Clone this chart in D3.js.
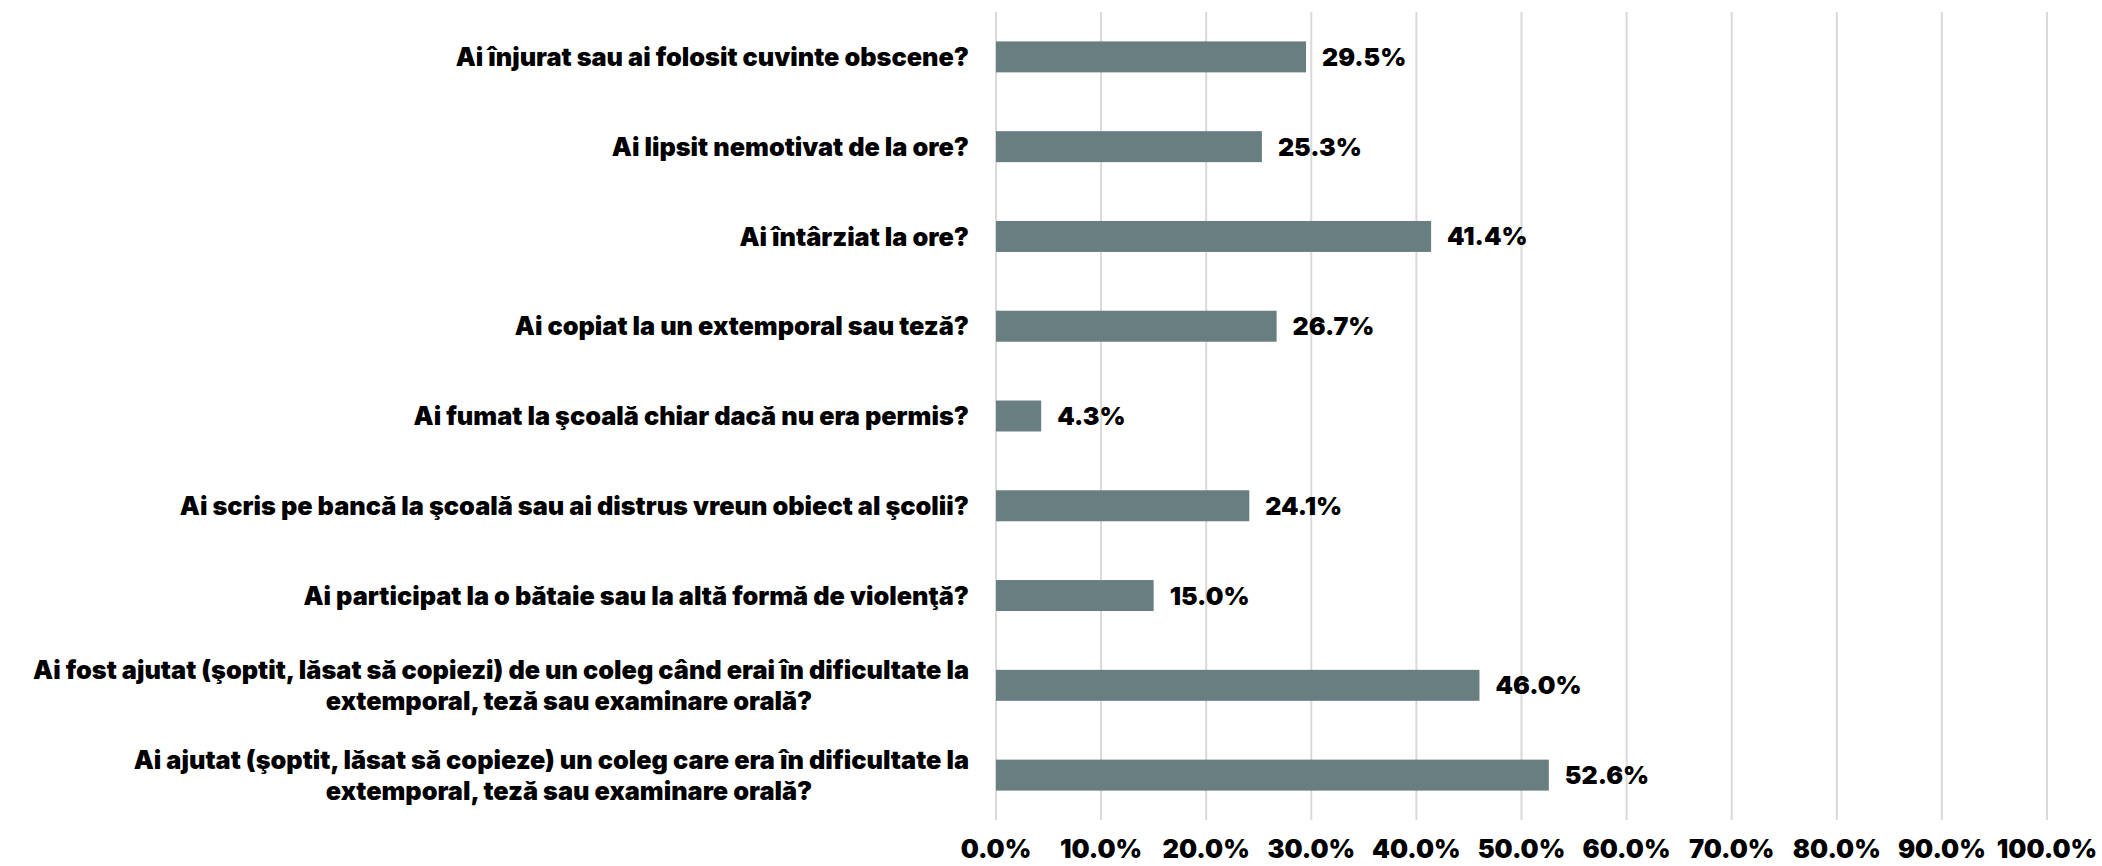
<!DOCTYPE html>
<html>
<head>
<meta charset="utf-8">
<script src="https://cdn.jsdelivr.net/npm/d3@7"></script>
<style>
  body { margin: 0; background: #fff; }
  text { font-family: Inter, Lato, "DejaVu Sans", sans-serif; font-weight: 900; fill: #000; }
</style>
</head>
<body>
<div id="chart"></div>
<script>
const width = 2102;
const height = 866;

// questions, top to bottom (each line of a label is a separate entry)
const questions = [
  ["Ai înjurat sau ai folosit cuvinte obscene?"],
  ["Ai lipsit nemotivat de la ore?"],
  ["Ai întârziat la ore?"],
  ["Ai copiat la un extemporal sau teză?"],
  ["Ai fumat la şcoală chiar dacă nu era permis?"],
  ["Ai scris pe bancă la şcoală sau ai distrus vreun obiect al şcolii?"],
  ["Ai participat la o bătaie sau la altă formă de violenţă?"],
  ["Ai fost ajutat (şoptit, lăsat să copiezi) de un coleg când erai în dificultate la", "extemporal, teză sau examinare orală?"],
  ["Ai ajutat (şoptit, lăsat să copieze) un coleg care era în dificultate la", "extemporal, teză sau examinare orală?"]
];
const values = [29.5, 25.3, 41.4, 26.7, 4.3, 24.1, 15.0, 46.0, 52.6];
const ticks = [0, 10, 20, 30, 40, 50, 60, 70, 80, 90, 100];

const margin = { top: 12, right: 55, bottom: 46, left: 996 };

const svg = d3.select("#chart")
  .append("svg")
  .attr("width", width)
  .attr("height", height);

const x = d3.scaleLinear().domain([0, 100]).range([margin.left, width - margin.right]);
const y = d3.scaleBand()
  .domain(d3.range(values.length))
  .range([margin.top, height - margin.bottom])
  .paddingInner(0.655)
  .paddingOuter(0.3275);

// gridlines
svg.append("g")
  .selectAll("line")
  .data(ticks)
  .enter()
  .append("line")
  .attr("x1", d => x(d))
  .attr("x2", d => x(d))
  .attr("y1", margin.top)
  .attr("y2", height - margin.bottom)
  .attr("stroke", "#d9d9d9")
  .attr("stroke-width", 2);

// tick labels
svg.append("g")
  .selectAll("text")
  .data(ticks)
  .enter()
  .append("text")
  .attr("x", d => x(d))
  .attr("y", 858)
  .attr("text-anchor", "middle")
  .style("font-size", "25.5px")
  .text(d => d.toFixed(1) + "%");

// bars
svg.append("g")
  .selectAll("rect")
  .data(values)
  .enter()
  .append("rect")
  .attr("x", x(0))
  .attr("y", (d, i) => y(i))
  .attr("width", d => x(d) - x(0))
  .attr("height", y.bandwidth())
  .attr("fill", "#687e81");

// value labels
svg.append("g")
  .selectAll("text")
  .data(values)
  .enter()
  .append("text")
  .attr("x", d => x(d) + 16)
  .attr("y", (d, i) => y(i) + y.bandwidth() / 2)
  .attr("dy", "0.36em")
  .style("font-size", "25px")
  .text(d => d.toFixed(1) + "%");

// category labels: first line right-aligned, wrapped lines centred in the label box
const lineH = 31;
const labelRight = 969;
const wrapCenter = 569;
const labels = svg.append("g")
  .selectAll("text")
  .data(questions)
  .enter()
  .append("text")
  .style("font-size", "25.3px")
  .attr("transform", (d, i) => `translate(0,${y(i) + y.bandwidth() / 2})`);

labels.each(function(lines) {
  const t = d3.select(this);
  lines.forEach((ln, k) => {
    t.append("tspan")
      .attr("x", k === 0 ? labelRight : wrapCenter)
      .attr("text-anchor", k === 0 ? "end" : "middle")
      .attr("y", (k - (lines.length - 1) / 2) * lineH)
      .attr("dy", "0.36em")
      .text(ln);
  });
});
</script>
</body>
</html>
